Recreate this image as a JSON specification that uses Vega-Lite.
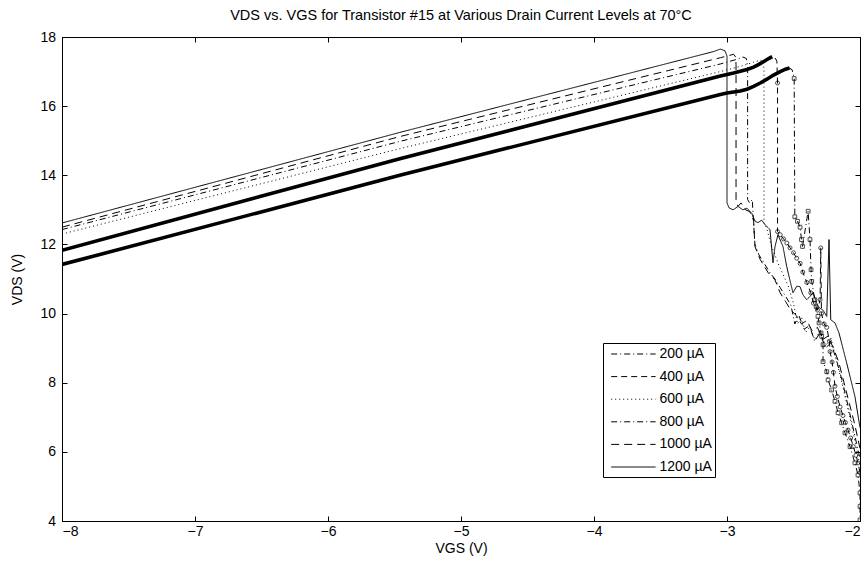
{
  "$schema": "https://vega.github.io/schema/vega-lite/v6.json",
  "width": 798,
  "height": 484,
  "autosize": {"type": "none"},
  "padding": {"left": 62, "top": 37, "right": 7, "bottom": 48},
  "background": "white",
  "config": {
    "font": "Liberation Sans",
    "view": {"stroke": "black", "strokeWidth": 1},
    "axis": {
      "domainColor": "black", "tickColor": "black", "labelColor": "black", "titleColor": "black",
      "labelFont": "Liberation Sans", "titleFont": "Liberation Sans",
      "labelFontSize": 14, "titleFontSize": 14, "titleFontWeight": "normal",
      "grid": false, "tickSize": -5, "labelPadding": 4, "domainWidth": 1
    }
  },
  "title": {
    "text": "VDS vs. VGS for Transistor #15 at Various Drain Current Levels at 70°C",
    "fontSize": 14.5, "fontWeight": "normal", "font": "Liberation Sans", "color": "black",
    "anchor": "middle", "offset": 8, "dy": 12, "baseline": "alphabetic"
  },
  "data": {"values": [
    {"s":"1200 µA","x":-8,"y":12.62},{"s":"1200 µA","x":-5.46,"y":15.24},{"s":"1200 µA","x":-3.1,"y":17.58},{"s":"1200 µA","x":-3.05,"y":17.65},{"s":"1200 µA","x":-3.015,"y":17.6},{"s":"1200 µA","x":-3.0,"y":17.45},{"s":"1200 µA","x":-3.0,"y":13.2},{"s":"1200 µA","x":-2.985,"y":13.06},{"s":"1200 µA","x":-2.955,"y":13.0},{"s":"1200 µA","x":-2.917,"y":13.1},{"s":"1200 µA","x":-2.88,"y":13.0},{"s":"1200 µA","x":-2.85,"y":13.05},{"s":"1200 µA","x":-2.814,"y":12.9},{"s":"1200 µA","x":-2.789,"y":12.67},{"s":"1200 µA","x":-2.767,"y":12.63},{"s":"1200 µA","x":-2.739,"y":12.7},{"s":"1200 µA","x":-2.714,"y":12.57},{"s":"1200 µA","x":-2.677,"y":12.43},{"s":"1200 µA","x":-2.654,"y":11.47},{"s":"1200 µA","x":-2.639,"y":11.94},{"s":"1200 µA","x":-2.617,"y":12.28},{"s":"1200 µA","x":-2.579,"y":11.94},{"s":"1200 µA","x":-2.551,"y":11.36},{"s":"1200 µA","x":-2.526,"y":10.95},{"s":"1200 µA","x":-2.504,"y":10.6},{"s":"1200 µA","x":-2.476,"y":10.79},{"s":"1200 µA","x":-2.451,"y":10.78},{"s":"1200 µA","x":-2.43,"y":10.55},{"s":"1200 µA","x":-2.401,"y":10.4},{"s":"1200 µA","x":-2.375,"y":10.5},{"s":"1200 µA","x":-2.353,"y":10.6},{"s":"1200 µA","x":-2.316,"y":10.2},{"s":"1200 µA","x":-2.278,"y":10.1},{"s":"1200 µA","x":-2.25,"y":9.92},{"s":"1200 µA","x":-2.233,"y":12.14},{"s":"1200 µA","x":-2.22,"y":9.82},{"s":"1200 µA","x":-2.188,"y":9.73},{"s":"1200 µA","x":-2.158,"y":9.44},{"s":"1200 µA","x":-2.1,"y":8.57},{"s":"1200 µA","x":-2.038,"y":7.6},{"s":"1200 µA","x":-2.0,"y":6.7},

    {"s":"1000 µA","x":-8,"y":12.5},{"s":"1000 µA","x":-5.46,"y":15.12},{"s":"1000 µA","x":-3.05,"y":17.4},{"s":"1000 µA","x":-2.98,"y":17.47},{"s":"1000 µA","x":-2.95,"y":17.5},{"s":"1000 µA","x":-2.935,"y":17.42},{"s":"1000 µA","x":-2.932,"y":17.2},{"s":"1000 µA","x":-2.932,"y":13.3},{"s":"1000 µA","x":-2.917,"y":13.1},{"s":"1000 µA","x":-2.895,"y":13.2},{"s":"1000 µA","x":-2.86,"y":13.0},{"s":"1000 µA","x":-2.83,"y":12.95},{"s":"1000 µA","x":-2.8,"y":12.7},{"s":"1000 µA","x":-2.79,"y":11.94},{"s":"1000 µA","x":-2.75,"y":11.56},{"s":"1000 µA","x":-2.69,"y":11.18},{"s":"1000 µA","x":-2.64,"y":10.98},{"s":"1000 µA","x":-2.6,"y":10.6},{"s":"1000 µA","x":-2.56,"y":10.35},{"s":"1000 µA","x":-2.52,"y":10.1},{"s":"1000 µA","x":-2.48,"y":9.95},{"s":"1000 µA","x":-2.44,"y":9.7},{"s":"1000 µA","x":-2.4,"y":9.8},{"s":"1000 µA","x":-2.36,"y":9.5},{"s":"1000 µA","x":-2.32,"y":9.6},{"s":"1000 µA","x":-2.28,"y":9.25},{"s":"1000 µA","x":-2.24,"y":9.35},{"s":"1000 µA","x":-2.2,"y":9.0},{"s":"1000 µA","x":-2.16,"y":8.6},{"s":"1000 µA","x":-2.12,"y":8.0},{"s":"1000 µA","x":-2.08,"y":7.4},{"s":"1000 µA","x":-2.04,"y":6.8},{"s":"1000 µA","x":-2.0,"y":6.1},

    {"s":"800 µA","x":-8,"y":12.43},{"s":"800 µA","x":-5.46,"y":14.98},{"s":"800 µA","x":-3.05,"y":17.22},{"s":"800 µA","x":-2.92,"y":17.36},{"s":"800 µA","x":-2.88,"y":17.42},{"s":"800 µA","x":-2.855,"y":17.38},{"s":"800 µA","x":-2.845,"y":17.15},{"s":"800 µA","x":-2.845,"y":13.3},{"s":"800 µA","x":-2.83,"y":13.2},{"s":"800 µA","x":-2.81,"y":13.3},{"s":"800 µA","x":-2.8,"y":12.6},{"s":"800 µA","x":-2.79,"y":12.0},{"s":"800 µA","x":-2.76,"y":11.7},{"s":"800 µA","x":-2.72,"y":11.45},{"s":"800 µA","x":-2.68,"y":11.2},{"s":"800 µA","x":-2.64,"y":11.0},{"s":"800 µA","x":-2.6,"y":10.75},{"s":"800 µA","x":-2.56,"y":10.5},{"s":"800 µA","x":-2.52,"y":10.25},{"s":"800 µA","x":-2.49,"y":9.7},{"s":"800 µA","x":-2.46,"y":9.95},{"s":"800 µA","x":-2.42,"y":9.55},{"s":"800 µA","x":-2.38,"y":9.65},{"s":"800 µA","x":-2.34,"y":9.2},{"s":"800 µA","x":-2.3,"y":9.45},{"s":"800 µA","x":-2.26,"y":9.0},{"s":"800 µA","x":-2.22,"y":9.15},{"s":"800 µA","x":-2.18,"y":8.7},{"s":"800 µA","x":-2.13,"y":8.0},{"s":"800 µA","x":-2.07,"y":7.0},{"s":"800 µA","x":-2.0,"y":5.8},

    {"s":"600 µA","x":-8,"y":12.3},{"s":"600 µA","x":-5.46,"y":14.77},{"s":"600 µA","x":-3.05,"y":17.0},{"s":"600 µA","x":-2.9,"y":17.15},{"s":"600 µA","x":-2.8,"y":17.27},{"s":"600 µA","x":-2.75,"y":17.33},{"s":"600 µA","x":-2.73,"y":17.3},{"s":"600 µA","x":-2.722,"y":17.1},{"s":"600 µA","x":-2.722,"y":12.63},{"s":"600 µA","x":-2.7,"y":12.45},{"s":"600 µA","x":-2.67,"y":12.0},{"s":"600 µA","x":-2.64,"y":11.7},{"s":"600 µA","x":-2.61,"y":11.4},{"s":"600 µA","x":-2.58,"y":11.15},{"s":"600 µA","x":-2.54,"y":10.8},{"s":"600 µA","x":-2.5,"y":10.3},{"s":"600 µA","x":-2.47,"y":9.7},{"s":"600 µA","x":-2.44,"y":9.9},{"s":"600 µA","x":-2.41,"y":9.45},{"s":"600 µA","x":-2.38,"y":9.6},{"s":"600 µA","x":-2.34,"y":9.25},{"s":"600 µA","x":-2.3,"y":9.5},{"s":"600 µA","x":-2.26,"y":9.05},{"s":"600 µA","x":-2.22,"y":9.3},{"s":"600 µA","x":-2.18,"y":8.7},{"s":"600 µA","x":-2.13,"y":7.9},{"s":"600 µA","x":-2.07,"y":6.9},{"s":"600 µA","x":-2.0,"y":5.6},

    {"s":"400 µA","x":-8,"y":11.83},{"s":"400 µA","x":-5.46,"y":14.48},{"s":"400 µA","x":-3.05,"y":16.87},{"s":"400 µA","x":-2.95,"y":16.96},{"s":"400 µA","x":-2.9,"y":17.01},{"s":"400 µA","x":-2.85,"y":17.06},{"s":"400 µA","x":-2.8,"y":17.13},{"s":"400 µA","x":-2.76,"y":17.21},{"s":"400 µA","x":-2.72,"y":17.3},{"s":"400 µA","x":-2.69,"y":17.37},{"s":"400 µA","x":-2.66,"y":17.43},{"s":"400 µA","x":-2.64,"y":17.4},{"s":"400 µA","x":-2.625,"y":17.3},{"s":"400 µA","x":-2.62,"y":16.67},{"s":"400 µA","x":-2.62,"y":12.37},{"s":"400 µA","x":-2.6,"y":12.28},{"s":"400 µA","x":-2.575,"y":12.16},{"s":"400 µA","x":-2.55,"y":12.04},{"s":"400 µA","x":-2.526,"y":11.9},{"s":"400 µA","x":-2.5,"y":11.76},{"s":"400 µA","x":-2.476,"y":11.6},{"s":"400 µA","x":-2.45,"y":11.45},{"s":"400 µA","x":-2.43,"y":11.2},{"s":"400 µA","x":-2.4,"y":10.9},{"s":"400 µA","x":-2.37,"y":10.6},{"s":"400 µA","x":-2.35,"y":10.3},{"s":"400 µA","x":-2.32,"y":10.1},{"s":"400 µA","x":-2.3,"y":10.4},{"s":"400 µA","x":-2.295,"y":11.9},{"s":"400 µA","x":-2.29,"y":10.0},{"s":"400 µA","x":-2.27,"y":9.7},{"s":"400 µA","x":-2.25,"y":9.6},{"s":"400 µA","x":-2.23,"y":9.2},{"s":"400 µA","x":-2.225,"y":8.9},{"s":"400 µA","x":-2.21,"y":8.6},{"s":"400 µA","x":-2.2,"y":8.3},{"s":"400 µA","x":-2.188,"y":7.9},{"s":"400 µA","x":-2.17,"y":7.6},{"s":"400 µA","x":-2.15,"y":7.3},{"s":"400 µA","x":-2.128,"y":7.05},{"s":"400 µA","x":-2.11,"y":6.85},{"s":"400 µA","x":-2.09,"y":6.63},{"s":"400 µA","x":-2.07,"y":6.4},{"s":"400 µA","x":-2.05,"y":6.15},{"s":"400 µA","x":-2.03,"y":5.9},{"s":"400 µA","x":-2.015,"y":5.68},{"s":"400 µA","x":-2.0,"y":5.4},

    {"s":"200 µA","x":-8,"y":11.42},{"s":"200 µA","x":-5.46,"y":14.0},{"s":"200 µA","x":-3.05,"y":16.34},{"s":"200 µA","x":-3.0,"y":16.38},{"s":"200 µA","x":-2.9,"y":16.44},{"s":"200 µA","x":-2.85,"y":16.49},{"s":"200 µA","x":-2.8,"y":16.57},{"s":"200 µA","x":-2.75,"y":16.67},{"s":"200 µA","x":-2.7,"y":16.78},{"s":"200 µA","x":-2.65,"y":16.9},{"s":"200 µA","x":-2.6,"y":17.0},{"s":"200 µA","x":-2.56,"y":17.07},{"s":"200 µA","x":-2.53,"y":17.1},{"s":"200 µA","x":-2.51,"y":17.05},{"s":"200 µA","x":-2.495,"y":16.8},{"s":"200 µA","x":-2.49,"y":12.8},{"s":"200 µA","x":-2.47,"y":12.67},{"s":"200 µA","x":-2.451,"y":12.5},{"s":"200 µA","x":-2.44,"y":12.14},{"s":"200 µA","x":-2.432,"y":11.94},{"s":"200 µA","x":-2.39,"y":12.96},{"s":"200 µA","x":-2.376,"y":12.14},{"s":"200 µA","x":-2.368,"y":11.27},{"s":"200 µA","x":-2.363,"y":10.93},{"s":"200 µA","x":-2.34,"y":10.4},{"s":"200 µA","x":-2.33,"y":10.2},{"s":"200 µA","x":-2.316,"y":9.92},{"s":"200 µA","x":-2.308,"y":9.73},{"s":"200 µA","x":-2.293,"y":9.44},{"s":"200 µA","x":-2.288,"y":9.34},{"s":"200 µA","x":-2.278,"y":9.1},{"s":"200 µA","x":-2.278,"y":8.61},{"s":"200 µA","x":-2.25,"y":8.32},{"s":"200 µA","x":-2.24,"y":8.08},{"s":"200 µA","x":-2.213,"y":7.79},{"s":"200 µA","x":-2.188,"y":7.46},{"s":"200 µA","x":-2.165,"y":7.13},{"s":"200 µA","x":-2.138,"y":6.84},{"s":"200 µA","x":-2.113,"y":6.55},{"s":"200 µA","x":-2.075,"y":6.15},{"s":"200 µA","x":-2.038,"y":5.68},{"s":"200 µA","x":-2.015,"y":5.33},{"s":"200 µA","x":-2.0,"y":4.81},{"s":"200 µA","x":-2.0,"y":4.42},{"s":"200 µA","x":-2.0,"y":4.03}
  ]},
  "layer": [
    {
      "mark": {"type": "line", "color": "black", "strokeWidth": 1, "clip": true},
      "encoding": {
        "x": {"field": "x", "type": "quantitative", "scale": {"domain": [-8, -2], "nice": false, "zero": false},
          "axis": {"orient": "bottom", "values": [-8, -7, -6, -5, -4, -3, -2], "title": "VGS (V)", "titlePadding": 3, "labelPadding": 8}},
        "y": {"field": "y", "type": "quantitative", "scale": {"domain": [4, 18], "nice": false, "zero": false},
          "axis": {"orient": "left", "values": [4, 6, 8, 10, 12, 14, 16, 18], "title": "VDS (V)", "titlePadding": 15, "labelPadding": 11.5}},
        "strokeDash": {"field": "s", "type": "nominal",
          "scale": {"domain": ["200 µA", "400 µA", "600 µA", "800 µA", "1000 µA", "1200 µA"],
            "range": [[6, 3, 1, 3], [6, 4], [1, 3], [6, 3, 1, 3], [8, 5], [1, 0]]},
          "legend": {"title": null, "orient": "none", "legendX": 541, "legendY": 306,
            "strokeColor": "black", "fillColor": "white", "padding": 2.5, "cornerRadius": 0,
            "symbolType": "M-0.35,0H5.2", "symbolSize": 256, "symbolStrokeWidth": 1, "symbolStrokeColor": "black", "symbolFillColor": "transparent",
            "labelFontSize": 14, "labelFont": "Liberation Sans", "labelColor": "black",
            "rowPadding": 6.6, "labelOffset": 37}},
        "order": {"value": null}
      }
    },
    {
      "transform": [{"filter": "(datum.s === '200 µA' && datum.x <= -2.53) || (datum.s === '400 µA' && datum.x <= -2.66)"}],
      "mark": {"type": "line", "color": "black", "strokeWidth": 3.6, "clip": true},
      "encoding": {
        "x": {"field": "x", "type": "quantitative",
          "axis": {"orient": "top", "values": [-8, -7, -6, -5, -4, -3, -2], "labels": false, "title": null}},
        "y": {"field": "y", "type": "quantitative",
          "axis": {"orient": "right", "values": [4, 6, 8, 10, 12, 14, 16, 18], "labels": false, "title": null}},
        "detail": {"field": "s", "type": "nominal"},
        "order": {"value": null}
      }
    },
    {
      "transform": [{"filter": "datum.s === '200 µA' && datum.x > -2.5"}],
      "mark": {"type": "point", "shape": "square", "size": 14, "filled": false, "color": "black", "strokeWidth": 1, "clip": true},
      "encoding": {
        "x": {"field": "x", "type": "quantitative", "axis": null},
        "y": {"field": "y", "type": "quantitative", "axis": null}
      }
    },
    {
      "transform": [{"filter": "datum.s === '400 µA' && datum.x >= -2.62"}],
      "mark": {"type": "point", "shape": "circle", "size": 16, "filled": false, "color": "black", "strokeWidth": 1, "clip": true},
      "encoding": {
        "x": {"field": "x", "type": "quantitative", "axis": null},
        "y": {"field": "y", "type": "quantitative", "axis": null}
      }
    }
  ],
  "resolve": {"axis": {"x": "independent", "y": "independent"}}
}
